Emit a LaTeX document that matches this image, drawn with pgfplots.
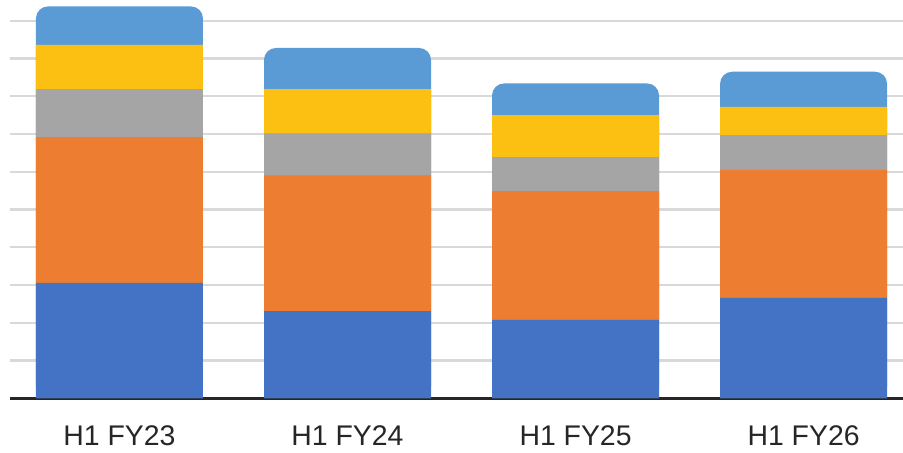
\documentclass[border=0pt]{standalone}
\usepackage{pgfplots}
\usepackage{pgfplotstable}
\pgfplotsset{compat=1.18}
\usepackage{fontspec}
\setmainfont{Liberation Sans}
\definecolor{c1}{HTML}{4472C4}
\definecolor{c2}{HTML}{ED7D31}
\definecolor{c3}{HTML}{A5A5A5}
\definecolor{c4}{HTML}{FCC013}
\definecolor{c5}{HTML}{5B9BD5}
\definecolor{gridc}{HTML}{D9D9D9}
\definecolor{txt}{HTML}{262626}
\pgfplotstableread{
x s1 s2 s3 s4 s5
0 3.06 3.86 1.27 1.17 1.02
1 2.31 3.59 1.11 1.18 1.09
2 2.08 3.41 0.90 1.11 0.84
3 2.66 3.39 0.92 0.75 0.93
}\data
\pgfplotsset{base/.style={scale only axis, width=446.5pt, height=199.15pt,
  xmin=-0.48, xmax=3.436, ymin=0, ymax=10.55,
  axis line style={draw=none}, tick style={draw=none},
  bar width=83.5pt, clip=false}}
\begin{document}
\begin{tikzpicture}
\useasboundingbox (-5pt,-26.85pt) rectangle (446.5pt,199.15pt);
\begin{axis}[base, ybar, xtick=\empty, ytick={1,...,10}, yticklabels={},
  ymajorgrids, major grid style={gridc, line width=1.1pt}]
\addplot[fill=c5, draw=none, rounded corners=6pt] table[x=x, y expr=\thisrow{s1}+\thisrow{s2}+\thisrow{s3}+\thisrow{s4}+\thisrow{s5}] {\data};
\end{axis}
\begin{axis}[base, ybar stacked, xtick={0,1,2,3},
  xticklabels={H1 FY23,H1 FY24,H1 FY25,H1 FY26},
  xticklabel style={anchor=base, yshift=-23.6pt, font=\fontsize{14.2}{17}\selectfont, text=txt},
  ytick=\empty, extra y ticks={0}, extra y tick labels={},
  extra y tick style={grid=major, major grid style={txt, line width=1.8pt}}]
\addplot[fill=c1, draw=none] table[x=x, y=s1] {\data};
\addplot[fill=c2, draw=none] table[x=x, y=s2] {\data};
\addplot[fill=c3, draw=none] table[x=x, y=s3] {\data};
\addplot[fill=c4, draw=none] table[x=x, y=s4] {\data};
\end{axis}
\end{tikzpicture}
\end{document}
